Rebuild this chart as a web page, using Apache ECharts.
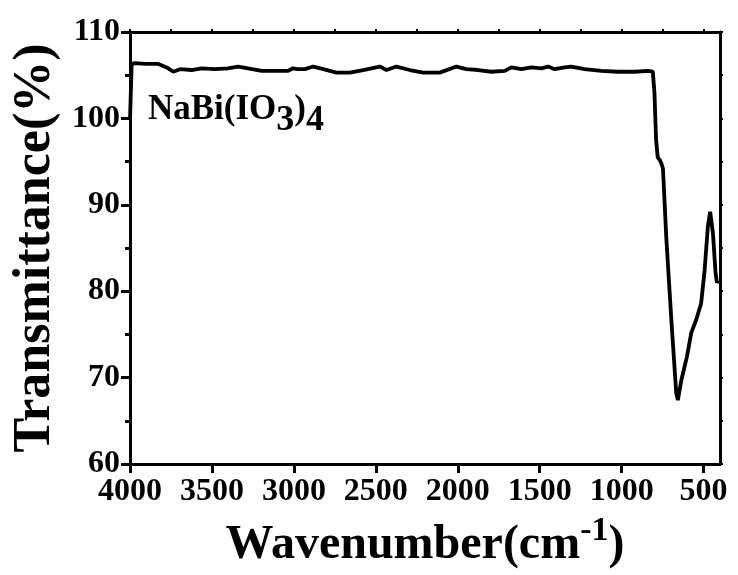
<!DOCTYPE html>
<html>
<head>
<meta charset="utf-8">
<script src="https://cdn.jsdelivr.net/npm/echarts@6/dist/echarts.min.js"></script>
<style>html,body{margin:0;padding:0;background:#fff}#c{width:738px;height:575px}</style>
</head>
<body>
<div id="c"></div>
<script>
var wavenumber = [4000,3990,3975,3900,3827,3776,3736,3695,3624,3563,3482,3402,3341,3280,3197,3116,3035,3006,2976,2933,2882,2821,2740,2659,2577,2476,2435,2374,2293,2211,2110,2008,1947,1876,1795,1713,1673,1612,1551,1490,1449,1409,1348,1307,1226,1124,1022,920,840,810,800,790,780,768,758,748,728,697,667,657,636,602,575,545,515,494,474,460,443,427,419,410];
var transmittance = [99.8,106.2,106.4,106.3,106.3,105.9,105.4,105.7,105.6,105.8,105.7,105.8,106.0,105.8,105.5,105.5,105.5,105.8,105.7,105.7,106.0,105.7,105.3,105.3,105.6,106.0,105.6,106.0,105.6,105.3,105.3,106.0,105.7,105.6,105.4,105.5,105.9,105.7,105.9,105.8,106.0,105.7,105.9,106.0,105.7,105.5,105.4,105.4,105.5,105.4,103.0,97.5,95.5,95.2,94.8,94.2,86.3,76.7,68.2,67.4,69.7,72.4,75.2,76.7,78.6,82.4,87.5,89.2,86.7,82.1,81.0,81.2];
var xTicks = [4000,3500,3000,2500,2000,1500,1000,500];
var xTopTicks = [4000,3750,3500,3250,3000,2750,2500,2250,2000,1750,1500,1250,1000,750,500];
var sampleLabel = 'NaBi(IO{s|3}){s|4}';

var font = 'Liberation Serif, Times New Roman, serif';
var chart = echarts.init(document.getElementById('c'));
var data = wavenumber.map(function(w,i){return [w, transmittance[i]];});
chart.setOption({
  animation: false,
  grid: {left: 130, right: 18, top: 32, bottom: 111},
  xAxis: [{
    type: 'value', inverse: true, min: 400, max: 4000,
    axisLine: {show: true, lineStyle: {color: '#000', width: 3}},
    axisTick: {show: true, customValues: xTicks, length: 9, lineStyle: {color: '#000', width: 3}},
    axisLabel: {customValues: xTicks, formatter: function(v){return String(v);}, color: '#000', fontFamily: font, fontWeight: 'bold', fontSize: 32, margin: 12},
    splitLine: {show: false},
    name: 'Wavenumber(cm{sup|-1})',
    nameLocation: 'middle', nameGap: 50,
    nameTextStyle: {color: '#000', fontFamily: font, fontWeight: 'bold', fontSize: 48,
      rich: {sup: {fontFamily: font, fontWeight: 'bold', fontSize: 34, color: '#000', padding: [0,0,30,0]}}}
  }, {
    type: 'value', inverse: true, min: 400, max: 4000, position: 'top',
    axisLine: {show: true, lineStyle: {color: '#000', width: 3}},
    axisTick: {show: true, customValues: xTopTicks, length: 3, lineStyle: {color: '#000', width: 2}},
    axisLabel: {show: false}, splitLine: {show: false}
  }],
  yAxis: [{
    type: 'value', min: 60, max: 110, interval: 10,
    axisLine: {show: true, lineStyle: {color: '#000', width: 3}},
    axisTick: {show: true, length: 9, lineStyle: {color: '#000', width: 3}},
    minorTick: {show: true, splitNumber: 2, length: 5, lineStyle: {color: '#000', width: 3}},
    axisLabel: {color: '#000', fontFamily: font, fontWeight: 'bold', fontSize: 32, margin: 10},
    splitLine: {show: false}, minorSplitLine: {show: false},
    name: 'Transmittance(%)', nameLocation: 'middle', nameGap: 68, nameRotate: 90,
    nameTextStyle: {color: '#000', fontFamily: font, fontWeight: 'bold', fontSize: 52}
  }, {
    type: 'value', min: 60, max: 110, interval: 10, position: 'right',
    axisLine: {show: true, lineStyle: {color: '#000', width: 3}},
    axisTick: {show: true, length: 3, lineStyle: {color: '#000', width: 2}},
    minorTick: {show: true, splitNumber: 2, length: 3, lineStyle: {color: '#000', width: 2}},
    axisLabel: {show: false}, splitLine: {show: false}, minorSplitLine: {show: false}
  }],
  series: [{
    type: 'line', data: data, showSymbol: false, symbol: 'none',
    lineStyle: {color: '#000', width: 3.8}, clip: true
  }],
  graphic: [{
    type: 'text', left: 148, top: 92,
    style: {
      text: sampleLabel, fill: '#000', font: 'bold 35px ' + font,
      rich: {s: {fontFamily: font, fontWeight: 'bold', fontSize: 36, fill: '#000', padding: [22,0,0,0]}}
    }
  }]
});
</script>
</body>
</html>
